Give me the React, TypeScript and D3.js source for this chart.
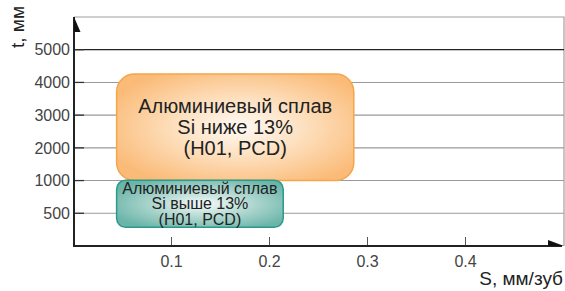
import { useEffect, useRef } from 'react';
import * as d3 from 'd3';

// cutting depth categories (t, mm) - evenly spaced on the chart
const tCategories = ["500", "1000", "2000", "3000", "4000", "5000"];
// feed per tooth ticks (S, mm/tooth)
const sTicks = [0.1, 0.2, 0.3, 0.4];
const sMax = 0.5;

// application zones: S range, t range (in category index units), label lines
const zoneNames = ["low", "high"];
const zoneS = [[0.044, 0.286], [0.044, 0.214]];
const zoneT = [[1, 4.26], [-0.43, 1.01]];
const zoneLabels = [
  ["Алюминиевый сплав", "Si ниже 13%", "(H01, PCD)"],
  ["Алюминиевый сплав", "Si выше 13%", "(H01, PCD)"],
];

const W = 565;
const H = 291;

export default function App() {
  const svgRef = useRef<SVGSVGElement | null>(null);

  useEffect(() => {
    document.body.style.margin = "0";
    if (!svgRef.current) return;
    const svg = d3.select(svgRef.current);
    svg.selectAll("*").remove();

    const left = 74, right = 564, top = 17, bottom = 246;
    const font = "'Liberation Sans', Arial, sans-serif";

    const x = d3.scaleLinear().domain([0, sMax]).range([73.5, 563.5]);
    const y = d3.scalePoint<string>().domain(tCategories).range([bottom, top]).padding(1);
    // same spacing, continuous (category index)
    const yIdx = d3.scaleLinear().domain([-1, tCategories.length]).range([bottom, top]);

    const defs = svg.append("defs");
    const grads = [
      { id: "gLow", inner: "#fffaf4", mid: "#fde0bf", outer: "#fbbb78" },
      { id: "gHigh", inner: "#f4faf9", mid: "#b5dad3", outer: "#6ab4a8" },
    ];
    grads.forEach(g => {
      const rg = defs.append("radialGradient").attr("id", g.id)
        .attr("cx", "52%").attr("cy", "50%").attr("r", "60%");
      rg.append("stop").attr("offset", "0%").attr("stop-color", g.inner);
      rg.append("stop").attr("offset", "45%").attr("stop-color", g.mid);
      rg.append("stop").attr("offset", "100%").attr("stop-color", g.outer);
    });

    // frame
    svg.append("path")
      .attr("d", `M${left},${top}H${right}V${bottom}`)
      .attr("fill", "none")
      .attr("stroke", "#a0a0a0")
      .attr("stroke-width", 1.2);

    // gridlines
    svg.append("g").selectAll("line")
      .data(tCategories)
      .enter().append("line")
      .attr("x1", left).attr("x2", right)
      .attr("y1", d => y(d)!).attr("y2", d => y(d)!)
      .attr("stroke", (d, i) => i === tCategories.length - 1 ? "#222" : "#9a9a9a")
      .attr("stroke-width", (d, i) => i === tCategories.length - 1 ? 1.3 : 1.1);

    // y tick marks
    svg.append("g").selectAll("line")
      .data(tCategories)
      .enter().append("line")
      .attr("x1", left).attr("x2", left + 10)
      .attr("y1", d => y(d)!).attr("y2", d => y(d)!)
      .attr("stroke", "#333").attr("stroke-width", 1.3);

    // x tick marks
    svg.append("g").selectAll("line")
      .data(sTicks)
      .enter().append("line")
      .attr("x1", d => x(d)).attr("x2", d => x(d))
      .attr("y1", bottom - 9).attr("y2", bottom)
      .attr("stroke", "#555").attr("stroke-width", 1);

    // zones
    const zones = svg.append("g").selectAll("g")
      .data(zoneNames)
      .enter().append("g");

    zones.append("rect")
      .attr("x", (d, i) => x(zoneS[i][0]))
      .attr("y", (d, i) => yIdx(zoneT[i][1]))
      .attr("width", (d, i) => x(zoneS[i][1]) - x(zoneS[i][0]))
      .attr("height", (d, i) => yIdx(zoneT[i][0]) - yIdx(zoneT[i][1]))
      .attr("rx", (d, i) => i === 0 ? 18 : 9)
      .attr("fill", (d, i) => `url(#${grads[i].id})`)
      .attr("stroke", (d, i) => i === 0 ? "#f5a54a" : "#2a9a8b")
      .attr("stroke-width", 1.5);

    zones.each(function (d, i) {
      const cx = (x(zoneS[i][0]) + x(zoneS[i][1])) / 2;
      const cy = (yIdx(zoneT[i][0]) + yIdx(zoneT[i][1])) / 2;
      const lh = i === 0 ? 21 : 15.5;
      const fs = i === 0 ? 20 : 16;
      d3.select(this).selectAll("text")
        .data(zoneLabels[i])
        .enter().append("text")
        .attr("x", cx)
        .attr("y", (t, j) => cy + (j - 1) * lh)
        .attr("dy", "0.35em")
        .attr("text-anchor", "middle")
        .style("font-family", font)
        .style("font-size", `${fs}px`)
        .style("fill", "#222")
        .text(t => t);
    });

    // axes with half-arrowheads
    svg.append("line")
      .attr("x1", left).attr("x2", left)
      .attr("y1", top).attr("y2", bottom + 1)
      .attr("stroke", "#222").attr("stroke-width", 2);
    svg.append("path")
      .attr("d", `M${left},${top}L${left + 6.5},${top + 15}L${left},${top + 15}Z`)
      .attr("fill", "#111");
    svg.append("line")
      .attr("x1", left - 1).attr("x2", right - 2)
      .attr("y1", bottom).attr("y2", bottom)
      .attr("stroke", "#222").attr("stroke-width", 2.2);
    svg.append("path")
      .attr("d", `M${right},${bottom}L${right - 16},${bottom - 6}L${right - 16},${bottom}Z`)
      .attr("fill", "#111");

    // y tick labels
    svg.append("g").selectAll("text")
      .data(tCategories)
      .enter().append("text")
      .attr("x", 70)
      .attr("y", d => y(d)!)
      .attr("dy", "0.36em")
      .attr("text-anchor", "end")
      .style("font-family", font)
      .style("font-size", "16px")
      .style("fill", "#444")
      .text(d => d);

    // x tick labels
    svg.append("g").selectAll("text")
      .data(sTicks)
      .enter().append("text")
      .attr("x", d => x(d))
      .attr("y", 261)
      .attr("dy", "0.36em")
      .attr("text-anchor", "middle")
      .style("font-family", font)
      .style("font-size", "16px")
      .style("fill", "#444")
      .text(d => d3.format(".1f")(d));

    // axis titles
    svg.append("text")
      .attr("x", 563).attr("y", 285)
      .attr("text-anchor", "end")
      .style("font-family", font)
      .style("font-size", "19px")
      .style("fill", "#222")
      .text("S, мм/зуб");
    svg.append("text")
      .attr("transform", "translate(24,48) rotate(-90)")
      .attr("text-anchor", "start")
      .style("font-family", font)
      .style("font-size", "19px")
      .style("fill", "#222")
      .text("t, мм");
  }, []);

  return <svg ref={svgRef} width={W} height={H} style={{ display: "block" }}></svg>;
}
